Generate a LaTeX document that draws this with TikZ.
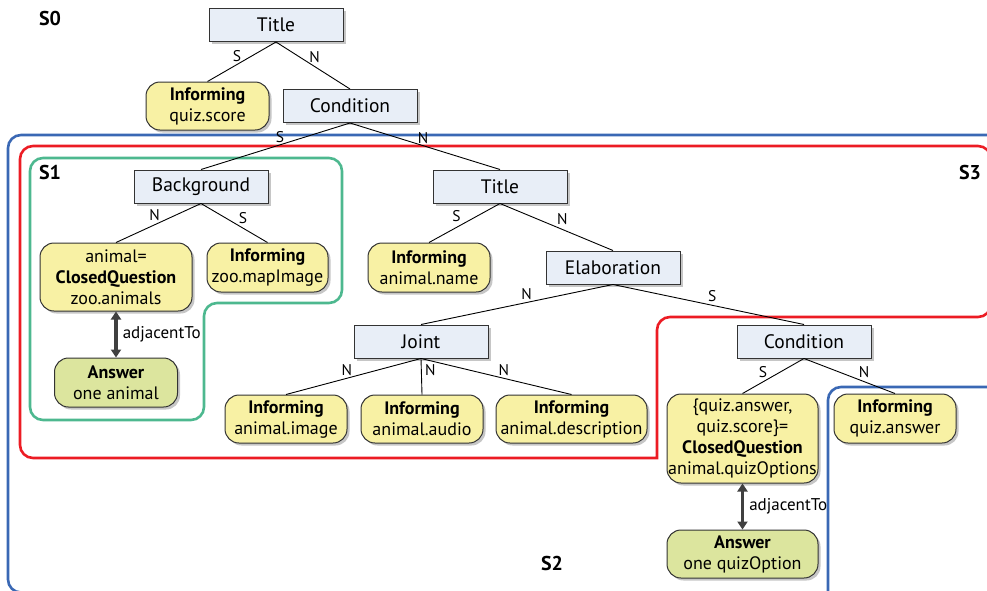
\documentclass[tikz,border=0pt]{standalone}
\usepackage{fontspec}
\setmainfont{PT Sans}
\usetikzlibrary{shadows,arrows.meta}
\definecolor{boxfill}{HTML}{E8EEF7}
\definecolor{yel}{HTML}{F8F1A4}
\definecolor{grn}{HTML}{DCE59E}
\definecolor{rblue}{HTML}{3A68B4}
\definecolor{rred}{HTML}{EC1C24}
\definecolor{rgreen}{HTML}{4DB88F}
\definecolor{edgegray}{HTML}{333333}
\tikzset{
  base/.style={draw=edgegray, line width=1pt, align=center, inner sep=1pt,
    drop shadow={opacity=0.45, shadow xshift=2.5pt, shadow yshift=-2.5pt}},
  rel/.style={base, fill=boxfill, minimum width=134pt, minimum height=33pt,
    font=\fontsize{19.5}{22}\selectfont},
  leaf/.style={base, fill=yel, rounded corners=14pt, font=\fontsize{18}{21}\selectfont},
  ansbox/.style={base, fill=grn, rounded corners=14pt, font=\fontsize{18}{21}\selectfont},
  conn/.style={draw=black, line width=0.9pt},
  lbl/.style={font=\fontsize{15.5}{15.5}\selectfont, inner sep=0pt},
  region/.style={line width=2.6pt, rounded corners=13pt},
  slabel/.style={font=\fontsize{20}{20}\selectfont\bfseries, inner sep=0pt},
  adj/.style={{Triangle[length=8pt,width=10pt]}-{Triangle[length=8pt,width=10pt]}, line width=3.5pt, draw=black!75},
  adjlbl/.style={font=\fontsize{17}{17}\selectfont, inner sep=0pt, anchor=west},
}
\begin{document}
\begin{tikzpicture}[x=1pt,y=-1pt]
\useasboundingbox (0,0) rectangle (987,590);
\clip (0,0) rectangle (987,590);
% regions
\draw[region, draw=rblue] (1010,135) -- (8,135) -- (8,592.5) -- (840,592.5);
\draw[region, draw=rblue] (828,600) -- (828,387) -- (1010,387);
\draw[region, draw=rred, line cap=rect] (657,458) -- (20,458) -- (20,146) -- (991,146) -- (991,317) -- (657,317) -- (657,458);
\draw[region, draw=rgreen] (30,158) -- (342,158) -- (342,303) -- (204,303) -- (204,420) -- (30,420) -- cycle;
\node[slabel] (s0) at (50,18) {S0};
\node[slabel] (s1) at (50,172) {S1};
\node[slabel] (s3) at (970,172) {S3};
\node[slabel] (s2) at (552,563) {S2};
% nodes
\node[rel] (title) at (276,25) {Title};
\node[rel] (cond) at (350,106) {Condition};
\node[rel] (bg) at (201,186.5) {Background};
\node[rel] (title2) at (500,186.5) {Title};
\node[rel] (elab) at (613,267.5) {Elaboration};
\node[rel] (joint) at (421,341.5) {Joint};
\node[rel] (cond2) at (804,341.5) {Condition};
\node[leaf, minimum width=123pt, minimum height=48pt] (infscore) at (207.5,106) {\textbf{Informing}\\quiz.score};
\node[leaf, minimum width=152pt, minimum height=68pt] (cq1) at (116,277) {animal=\\\textbf{ClosedQuestion}\\zoo.animals};
\node[leaf, minimum width=121pt, minimum height=49pt] (map) at (267.5,267.5) {\textbf{Informing}\\zoo.mapImage};
\node[ansbox, minimum width=123pt, minimum height=49pt] (ans1) at (116,382.5) {\textbf{Answer}\\one animal};
\node[leaf, minimum width=122pt, minimum height=49pt] (name) at (429,267.5) {\textbf{Informing}\\animal.name};
\node[leaf, minimum width=122pt, minimum height=48pt] (img) at (286,419) {\textbf{Informing}\\animal.image};
\node[leaf, minimum width=122pt, minimum height=48pt] (aud) at (422,419) {\textbf{Informing}\\animal.audio};
\node[leaf, minimum width=151pt, minimum height=48pt] (desc) at (571.5,419) {\textbf{Informing}\\animal.description};
\node[leaf, minimum width=151pt, minimum height=89pt] (cq2) at (742.5,438.5) {\{quiz.answer,\\quiz.score\}=\\\textbf{ClosedQuestion}\\animal.quizOptions};
\node[leaf, minimum width=122pt, minimum height=49pt] (qa) at (895,418.5) {\textbf{Informing}\\quiz.answer};
\node[ansbox, minimum width=151pt, minimum height=48pt] (ans2) at (742.5,554) {\textbf{Answer}\\one quizOption};
% connectors
\draw[conn] (title.south) -- node[lbl, pos=.35, xshift=-15pt] {S} (infscore.north);
\draw[conn] (title.south) -- node[lbl, pos=.32, xshift=15pt] {N} (cond.north);
\draw[conn] (cond.south) -- node[lbl, pos=.47, yshift=8pt] {S} (bg.north);
\draw[conn] (cond.south) -- node[lbl, pos=.487, yshift=8pt] {N} (title2.north);
\draw[conn] (bg.south) -- node[lbl, pos=.3, xshift=-21pt] {N} (cq1.north);
\draw[conn] (bg.south) -- node[lbl, pos=.375, xshift=17pt] {S} (map.north);
\draw[conn] (title2.south) -- node[lbl, pos=.33, xshift=-20pt] {S} (name.north);
\draw[conn] (title2.south) -- node[lbl, pos=.33, xshift=25pt] {N} (elab.north);
\draw[conn] (elab.south) -- node[lbl, pos=.45, yshift=8pt] {N} (joint.north);
\draw[conn] (elab.south) -- node[lbl, pos=.52, yshift=9pt] {S} (cond2.north);
\draw[conn] (joint.south) -- node[lbl, pos=.55, yshift=8pt] {N} (img.north);
\draw[conn] (joint.south) -- node[lbl, pos=.33, xshift=9pt] {N} (aud.north);
\draw[conn] (joint.south) -- node[lbl, pos=.55, yshift=8pt] {N} (desc.north);
\draw[conn] (cond2.south) -- node[lbl, pos=.39, xshift=-17pt] {S} (cq2.north);
\draw[conn] (cond2.south) -- node[lbl, pos=.66, yshift=10pt] {N} (qa.north);
\draw[adj] (cq1.south) -- node[adjlbl, xshift=5pt] {adjacentTo} (ans1.north);
\draw[adj] (cq2.south) -- node[adjlbl, xshift=5pt] {adjacentTo} (ans2.north);
\end{tikzpicture}
\end{document}
